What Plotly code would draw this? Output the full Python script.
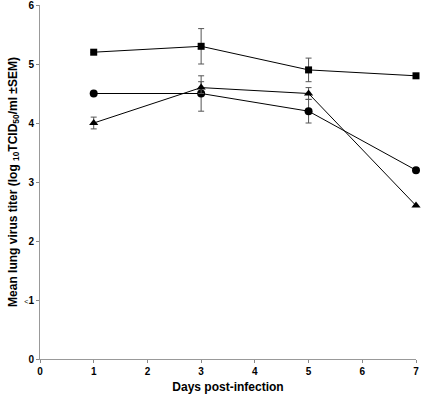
import plotly.graph_objects as go

days = [1, 3, 5, 7]
sq_vals = [5.2, 5.3, 4.9, 4.8]
sq_err = [0, 0.3, 0.2, 0]
ci_vals = [4.5, 4.5, 4.2, 3.2]
ci_err = [0, 0.3, 0.2, 0]
tr_vals = [4.0, 4.6, 4.5, 2.6]
tr_err = [0.1, 0.1, 0.1, 0]

x_ticks = [0, 1, 2, 3, 4, 5, 6, 7]
y_tickvals = [0, 1, 2, 3, 4, 5, 6]
y_ticktext = ["<b>0</b>", "<span style='font-size:7px'>&lt;</span><b>1</b>", "<b>2</b>", "<b>3</b>", "<b>4</b>", "<b>5</b>", "<b>6</b>"]

fig = go.Figure()
for vals, err, sym, sz in [(sq_vals, sq_err, "square", 7), (ci_vals, ci_err, "circle", 8), (tr_vals, tr_err, "triangle-up", 8)]:
    fig.add_trace(go.Scatter(
        x=days, y=vals, mode="lines+markers", cliponaxis=False,
        line=dict(color="black", width=1),
        marker=dict(symbol=sym, size=sz, color="black"),
        error_y=dict(type="data", array=err, visible=True, color="#555555", thickness=1, width=3),
        showlegend=False,
    ))

fnt = dict(family="Liberation Sans, Arial, sans-serif", color="black")
fig.update_layout(
    width=424, height=404,
    margin=dict(l=40, r=8, t=5, b=45, autoexpand=False),
    paper_bgcolor="white", plot_bgcolor="white",
    xaxis=dict(range=[0, 7], tickvals=x_ticks, ticktext=["<b>%d</b>" % v for v in x_ticks],
               ticks="outside", ticklen=3, tickcolor="#888", ticklabeloverflow="allow", automargin=False,
               showline=True, linecolor="#999", linewidth=1, showgrid=False, zeroline=False,
               tickfont=dict(size=10, **fnt),
               title=dict(text="<b>Days post-infection</b>", font=dict(size=12, **fnt), standoff=6)),
    yaxis=dict(range=[0, 6], tickvals=y_tickvals, ticktext=y_ticktext,
               ticks="outside", ticklen=3, tickcolor="#888", ticklabeloverflow="allow", automargin=False,
               showline=True, linecolor="#999", linewidth=1, showgrid=False, zeroline=False,
               tickfont=dict(size=10, **fnt),
               title=dict(text="<b>Mean lung virus titer (log <sub>10</sub>TCID<sub>50</sub>/ml ±SEM)</b>", font=dict(size=12, **fnt), standoff=4)),
)
fig.write_html("out.html", config={"displayModeBar": False}, post_script="document.body.style.margin='0';")
